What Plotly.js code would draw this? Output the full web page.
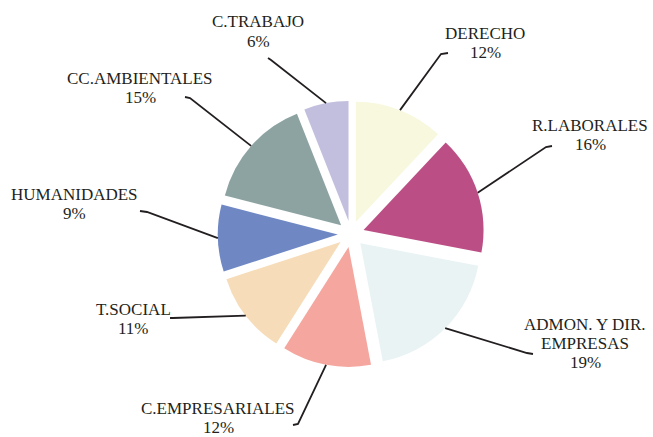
<!DOCTYPE html>
<html><head><meta charset="utf-8">
<script src="https://cdn.plot.ly/plotly-3.0.1.min.js"></script>
<style>html,body{margin:0;padding:0;background:#fff}#chart{width:653px;height:437px}</style>
</head><body><div id="chart"></div>
<script>
// ---- data ----
const categories = ['DERECHO','R.LABORALES','ADMON. Y DIR.<br>EMPRESAS','C.EMPRESARIALES','T.SOCIAL','HUMANIDADES','CC.AMBIENTALES','C.TRABAJO'];
const values = [12,16,19,12,11,9,15,6];
const colors = ['#F8F8DE','#BB4F85','#E9F3F4','#F4A69F','#F6DCB8','#6F88C4','#8DA3A2','#C2BEDE'];

// ---- layout (pixels) ----
const W = 653, H = 437;
const CX = 351, CY = 234, R = 120, PULL = 0.11;
// label anchor: centre x, baseline of first line
const labelPos = [[485,40],[590,132],[585,330],[218,414],[133,315],[74,200],[140,85],[258,28]];
// leader hook points near the label (two points: bend, end)
const hooks = [
  [[441,54],[448,53]],
  [[546,147],[552,146]],
  [[527,353],[533,354]],
  [[298,424],[293,425]],
  [[173,318],[170,318]],
  [[147,212],[140,211]],
  [[190,98],[185,97]],
  [[271,60],[268,58]]
];
const FS = 17, LH = 19;
const px = x => x / W, py = y => 1 - y / H;

const total = values.reduce((a,b)=>a+b,0);
const annotations = [], shapes = [];
let cum = 0;
values.forEach((v,i) => {
  const mid = (cum + v/2) / total * 2*Math.PI; cum += v;
  const dx = Math.sin(mid), dy = -Math.cos(mid);
  const ox = CX + dx*R*PULL, oy = CY + dy*R*PULL;
  const ax = ox + dx*R, ay = oy + dy*R;
  const h = hooks[i];
  shapes.push({type:'path', xref:'paper', yref:'paper',
    path:`M${px(ax)},${py(ay)} L${px(h[0][0])},${py(h[0][1])} L${px(h[1][0])},${py(h[1][1])}`,
    line:{color:'#231F20', width:1.8}});
  const lines = categories[i].split('<br>').concat([Math.round(v/total*100)+'%']);
  lines.forEach((t,k) => {
    annotations.push({xref:'paper', yref:'paper', x:px(labelPos[i][0]), y:py(labelPos[i][1] + k*LH - 6),
      text:t, showarrow:false, xanchor:'center', yanchor:'middle',
      font:{family:'Liberation Serif, Times New Roman, serif', size:FS, color:'#231F20'}});
  });
});

const half = R*(1+PULL);
const trace = {
  type:'pie', labels:categories, values:values, sort:false, direction:'clockwise', rotation:0,
  pull:values.map(()=>PULL), textinfo:'none', hoverinfo:'label+percent',
  marker:{colors:colors, line:{color:'#fff', width:0}},
  domain:{x:[(CX-170)/W,(CX+170)/W], y:[(H-CY-half)/H,(H-CY+half)/H]}
};
Plotly.newPlot('chart',[trace],{
  width:W, height:H, margin:{l:0,r:0,t:0,b:0}, showlegend:false,
  paper_bgcolor:'#fff', plot_bgcolor:'#fff', annotations:annotations, shapes:shapes
},{displayModeBar:false, staticPlot:true});
</script></body></html>
